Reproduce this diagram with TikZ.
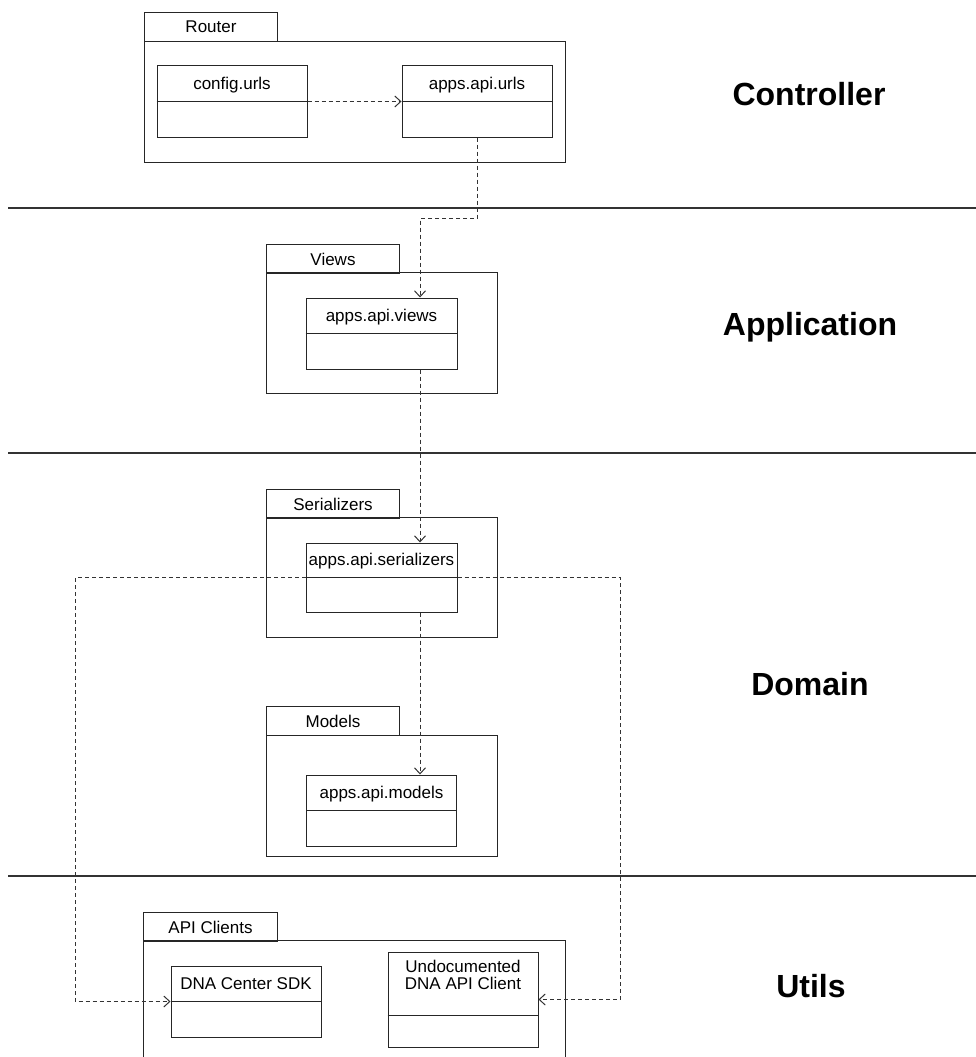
\documentclass[tikz,border=0pt]{standalone}
\usepackage{fontspec}
\setmainfont{Liberation Sans}
\usetikzlibrary{arrows.meta}

\tikzset{
  pkgtab/.style={draw=black!85,line width=1pt,anchor=north west,inner sep=0pt,minimum width=133,minimum height=29,font=\fontsize{17}{18}\selectfont},
  pkgbody/.style={draw=black!85,line width=1pt,anchor=north west,inner sep=0pt},
  cls/.style={draw=black!85,line width=1pt,inner sep=0pt,minimum width=150,minimum height=71},
  clstitle/.style={inner sep=0pt,text height=12,text depth=3.5,font=\fontsize{17}{18}\selectfont},
  dep/.style={black!80,line width=1pt,dash pattern=on 4pt off 3pt,-{Straight Barb[length=6pt,width=11pt,line width=1pt]}},
  sep/.style={line width=1.3pt,black!80},
  layer/.style={anchor=base,font=\fontsize{32}{36}\selectfont\bfseries}
}

\begin{document}
\begin{tikzpicture}[x=1pt,y=-1pt]
	\clip (0,0) rectangle (976,1057);
	%layers
	\draw[sep] (8,208) -- (976,208);
	\draw[sep] (8,453) -- (976,453);
	\draw[sep] (8,876) -- (976,876);
	\node[layer] (Controller) at (809,105) {Controller};
	\node[layer] (Application) at (810,335) {Application};
	\node[layer] (Domain) at (810,695) {Domain};
	\node[layer] (Utils) at (811,997) {Utils};

	%packages
	\node[pkgbody,minimum width=421,minimum height=121] (Router) at (144,41) {};
	\node[pkgtab] (RouterTab) at (144,12) {Router};
	\node[pkgbody,minimum width=231,minimum height=121] (Views) at (266,272) {};
	\node[pkgtab] (ViewsTab) at (266,244) {Views};
	\node[pkgbody,minimum width=231,minimum height=120] (Serializers) at (266,517) {};
	\node[pkgtab] (SerializersTab) at (266,489) {Serializers};
	\node[pkgbody,minimum width=231,minimum height=121] (Models) at (266,735) {};
	\node[pkgtab] (ModelsTab) at (266,706) {Models};
	\node[pkgbody,minimum width=422,minimum height=130] (Clients) at (143,940) {};
	\node[pkgtab,minimum width=134] (ClientsTab) at (143,912) {API Clients};

	%classes
	\node[cls] (config) at (232,101.5) {};
	\node[cls] (apiurls) at (477,101.5) {};
	\node[cls,minimum width=151] (apiviews) at (381.5,333.5) {};
	\node[cls,minimum width=151,minimum height=69] (apiser) at (381.5,577.5) {};
	\node[cls] (apimodels) at (381.5,810.5) {};
	\node[cls] (dnasdk) at (246,1001.5) {};
	\node[cls,minimum height=95] (undoc) at (463,999.5) {};
	\foreach \c in {config,apiurls,apiviews,apiser,apimodels,dnasdk}
		\draw[black!85,line width=1pt] (\c.west) -- (\c.east);
	\draw[black!85,line width=1pt] ([yshift=-64]undoc.north west) -- ([yshift=-64]undoc.north east);

	\node[clstitle] (configT) at ([yshift=-20]config.north) {config.urls};
	\node[clstitle] (apiurlsT) at ([yshift=-20]apiurls.north) {apps.api.urls};
	\node[clstitle] (apiviewsT) at ([yshift=-20]apiviews.north) {apps.api.views};
	\node[clstitle] (apiserT) at ([yshift=-19]apiser.north) {apps.api.serializers};
	\node[clstitle] (apimodelsT) at ([yshift=-20]apimodels.north) {apps.api.models};
	\node[clstitle] (dnasdkT) at ([yshift=-20]dnasdk.north) {DNA Center SDK};
	\node[inner sep=0pt,anchor=north,align=center,font=\fontsize{17}{17.5}\selectfont] (undocT) at ([yshift=-8]undoc.north) {Undocumented\\DNA API Client};

	%dependencies
	\coordinate (vx) at (420,0);
	\coordinate (lx) at (75,0);
	\coordinate (rx) at (620,0);
	\draw[dep] (config.east) -- (apiurls.west);
	\draw[dep] (apiurls.south) -- ++(0,81) -| (apiviews.north -| vx);
	\draw[dep] (apiviews.south -| vx) -- (apiser.north -| vx);
	\draw[dep] (apiser.south -| vx) -- (apimodels.north -| vx);
	\draw[dep] (apiser.west) -| (lx |- dnasdk.west) -- (dnasdk.west);
	\draw[dep] (apiser.east) -| (rx |- undoc.east) -- (undoc.east);
\end{tikzpicture}
\end{document}
